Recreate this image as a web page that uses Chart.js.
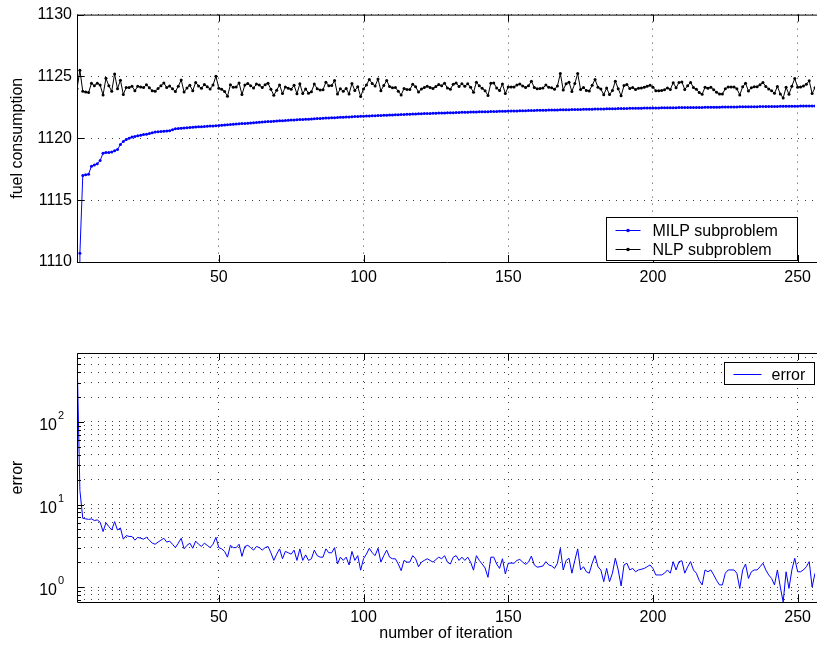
<!DOCTYPE html>
<html>
<head>
<meta charset="utf-8">
<script src="https://cdn.jsdelivr.net/npm/chart.js@4.4.0/dist/chart.umd.min.js"></script>
<style>
  html, body { margin: 0; padding: 0; background: #fff; }
  #wrap { position: relative; width: 817px; height: 647px; overflow: hidden; }
  #top { position: absolute; left: 0; top: 0; }
  #bottom { position: absolute; left: 0; top: 330px; }
</style>
</head>
<body>
<div id="wrap">
  <canvas id="top" width="817" height="300"></canvas>
  <canvas id="bottom" width="817" height="317"></canvas>
</div>
<script>
// values, one entry per iteration (1..256)
const milp = [
  439.0, 1110.7, 1117.0, 1117.05, 1117.1, 1117.75, 1117.85, 1117.95, 1118.2, 1118.8,
  1118.85, 1118.85, 1118.9, 1119.0, 1119.1, 1119.5, 1119.75, 1119.9, 1120.0, 1120.1,
  1120.15, 1120.2, 1120.25, 1120.3, 1120.33, 1120.38, 1120.45, 1120.5, 1120.52, 1120.55,
  1120.57, 1120.6, 1120.62, 1120.7, 1120.78, 1120.8, 1120.82, 1120.84, 1120.86, 1120.88,
  1120.9, 1120.92, 1120.93, 1120.94, 1120.95, 1120.97, 1120.99, 1121.0, 1121.02, 1121.04,
  1121.06, 1121.08, 1121.1, 1121.12, 1121.13, 1121.15, 1121.17, 1121.19, 1121.2, 1121.22,
  1121.24, 1121.26, 1121.28, 1121.3, 1121.31, 1121.33, 1121.35, 1121.36, 1121.38, 1121.39,
  1121.41, 1121.42, 1121.44, 1121.45, 1121.47, 1121.48, 1121.5, 1121.51, 1121.52, 1121.54,
  1121.55, 1121.57, 1121.58, 1121.6, 1121.61, 1121.62, 1121.64, 1121.65, 1121.66, 1121.67,
  1121.68, 1121.7, 1121.71, 1121.72, 1121.73, 1121.74, 1121.76, 1121.77, 1121.78, 1121.79,
  1121.8, 1121.81, 1121.82, 1121.83, 1121.84, 1121.85, 1121.86, 1121.87, 1121.88, 1121.89,
  1121.9, 1121.91, 1121.92, 1121.93, 1121.94, 1121.95, 1121.96, 1121.97, 1121.98, 1121.99,
  1122.0, 1122.0, 1122.01, 1122.02, 1122.03, 1122.04, 1122.04, 1122.05, 1122.06, 1122.07,
  1122.07, 1122.08, 1122.09, 1122.1, 1122.1, 1122.11, 1122.12, 1122.12, 1122.13, 1122.14,
  1122.14, 1122.15, 1122.15, 1122.16, 1122.17, 1122.17, 1122.18, 1122.18, 1122.19, 1122.2,
  1122.2, 1122.21, 1122.21, 1122.22, 1122.23, 1122.23, 1122.24, 1122.24, 1122.25, 1122.26,
  1122.26, 1122.27, 1122.27, 1122.28, 1122.28, 1122.29, 1122.29, 1122.3, 1122.3, 1122.31,
  1122.31, 1122.32, 1122.32, 1122.33, 1122.33, 1122.34, 1122.34, 1122.35, 1122.35, 1122.36,
  1122.36, 1122.37, 1122.37, 1122.38, 1122.38, 1122.39, 1122.39, 1122.4, 1122.4, 1122.41,
  1122.41, 1122.42, 1122.42, 1122.42, 1122.43, 1122.43, 1122.44, 1122.44, 1122.44, 1122.45,
  1122.45, 1122.45, 1122.46, 1122.46, 1122.46, 1122.47, 1122.47, 1122.47, 1122.48, 1122.48,
  1122.48, 1122.49, 1122.49, 1122.49, 1122.5, 1122.5, 1122.5, 1122.51, 1122.51, 1122.51,
  1122.52, 1122.52, 1122.52, 1122.53, 1122.53, 1122.53, 1122.54, 1122.54, 1122.54, 1122.55,
  1122.55, 1122.55, 1122.55, 1122.56, 1122.56, 1122.56, 1122.57, 1122.57, 1122.57, 1122.58,
  1122.58, 1122.58, 1122.58, 1122.59, 1122.59, 1122.59, 1122.6, 1122.6, 1122.6, 1122.6,
  1122.61, 1122.61, 1122.61, 1122.62, 1122.62, 1122.62
];
const nlp = [
  1124.0, 1125.5, 1123.8, 1123.75, 1123.7, 1124.45, 1124.25, 1124.45, 1124.3, 1123.5,
  1124.85, 1124.25, 1123.8, 1125.2, 1124.0, 1124.7, 1123.55, 1124.1, 1124.1, 1124.2,
  1123.85, 1124.2, 1124.15, 1124.1, 1124.33, 1124.08, 1123.85, 1123.8, 1124.02, 1124.25,
  1124.47, 1124.1, 1124.22, 1124.0, 1123.78, 1124.2, 1124.72, 1123.74, 1124.06, 1124.28,
  1123.85, 1124.52, 1124.23, 1124.04, 1124.35, 1124.17, 1123.99, 1124.3, 1125.02, 1124.04,
  1123.96, 1123.78, 1123.4, 1124.32, 1124.13, 1124.15, 1124.47, 1123.54, 1124.3, 1124.42,
  1124.24, 1124.06, 1124.38, 1124.3, 1124.11, 1124.33, 1124.45, 1123.96, 1123.48, 1123.89,
  1124.31, 1123.62, 1124.14, 1124.05, 1123.97, 1124.28, 1123.6, 1124.41, 1123.62, 1123.99,
  1123.65, 1123.77, 1124.38, 1124.0, 1123.91, 1123.92, 1124.54, 1124.25, 1124.26, 1124.67,
  1123.58, 1124.0, 1123.81, 1124.02, 1123.58, 1124.44, 1123.86, 1124.17, 1123.38, 1123.99,
  1124.3, 1124.76, 1124.42, 1124.23, 1124.79, 1123.85, 1124.26, 1124.67, 1124.18, 1124.09,
  1124.1, 1123.81, 1123.5, 1124.03, 1123.94, 1123.95, 1124.36, 1124.17, 1123.74, 1123.99,
  1124.1, 1124.2, 1124.11, 1124.02, 1124.18, 1124.34, 1124.24, 1124.45, 1124.06, 1123.97,
  1124.37, 1124.48, 1124.19, 1124.4, 1124.2, 1124.41, 1124.12, 1123.72, 1124.53, 1124.24,
  1124.04, 1123.85, 1123.46, 1124.46, 1124.47, 1124.07, 1123.86, 1124.38, 1123.63, 1124.14,
  1124.15, 1124.15, 1124.31, 1124.38, 1124.23, 1124.11, 1124.24, 1124.61, 1124.1, 1124.0,
  1124.02, 1124.07, 1124.3, 1124.13, 1124.08, 1123.97, 1124.23, 1125.24, 1123.91, 1124.41,
  1124.54, 1123.79, 1124.42, 1125.23, 1123.94, 1124.1, 1123.87, 1123.82, 1124.29, 1124.76,
  1124.12, 1123.98, 1123.53, 1124.06, 1123.54, 1123.86, 1124.62, 1124.01, 1123.43, 1124.26,
  1124.35, 1124.03, 1124.1, 1123.95, 1124.04, 1124.07, 1124.12, 1124.2, 1124.29, 1124.13,
  1123.85, 1123.85, 1123.86, 1123.93, 1124.07, 1123.94, 1124.5, 1124.08, 1124.51, 1124.56,
  1123.95, 1124.25, 1124.52, 1124.1, 1123.97, 1123.7, 1123.56, 1124.12, 1124.04, 1124.12,
  1123.92, 1123.72, 1123.58, 1123.59, 1124.0, 1124.14, 1124.15, 1124.15, 1124.01, 1123.51,
  1124.16, 1124.45, 1123.82, 1124.09, 1124.17, 1124.17, 1124.33, 1124.51, 1124.18, 1123.98,
  1123.85, 1123.64, 1124.19, 1123.59, 1123.25, 1124.12, 1123.56, 1124.21, 1124.83, 1124.13,
  1124.14, 1124.22, 1124.37, 1124.65, 1123.62, 1124.09
];
const errorValues = [
  685, 14.8, 6.8, 6.7, 6.6, 6.7, 6.4, 6.5, 6.1, 4.7,
  6.0, 5.4, 4.9, 6.2, 4.9, 5.2, 3.8, 4.2, 4.1, 4.1,
  3.7, 4.0, 3.9, 3.8, 4.0, 3.7, 3.4, 3.3, 3.5, 3.7,
  3.9, 3.5, 3.6, 3.3, 3.0, 3.4, 3.9, 2.9, 3.2, 3.4,
  2.95, 3.6, 3.3, 3.1, 3.4, 3.2, 3.0, 3.3, 4.0, 3.0,
  2.9, 2.7, 2.3, 3.2, 3.0, 3.0, 3.3, 2.35, 3.1, 3.2,
  3.0, 2.8, 3.1, 3.0, 2.8, 3.0, 3.1, 2.6, 2.1, 2.5,
  2.9, 2.2, 2.7, 2.6, 2.5, 2.8, 2.1, 2.9, 2.1, 2.45,
  2.1, 2.2, 2.8, 2.4, 2.3, 2.3, 2.9, 2.6, 2.6, 3.0,
  1.9, 2.3, 2.1, 2.3, 1.85, 2.7, 2.1, 2.4, 1.6, 2.2,
  2.5, 2.95, 2.6, 2.4, 2.95, 2.0, 2.4, 2.8, 2.3, 2.2,
  2.2, 1.9, 1.58, 2.1, 2.0, 2.0, 2.4, 2.2, 1.76, 2.0,
  2.1, 2.2, 2.1, 2.0, 2.15, 2.3, 2.2, 2.4, 2.0, 1.9,
  2.3, 2.4, 2.1, 2.3, 2.1, 2.3, 2.0, 1.6, 2.4, 2.1,
  1.9, 1.7, 1.31, 2.3, 2.3, 1.9, 1.68, 2.2, 1.44, 1.94,
  1.95, 1.94, 2.1, 2.16, 2.0, 1.88, 2.0, 2.37, 1.85, 1.74,
  1.76, 1.8, 2.03, 1.85, 1.8, 1.68, 1.94, 2.94, 1.61, 2.1,
  2.23, 1.47, 2.1, 2.9, 1.61, 1.76, 1.53, 1.47, 1.94, 2.4,
  1.76, 1.61, 1.16, 1.68, 1.16, 1.47, 2.23, 1.61, 1.03, 1.85,
  1.94, 1.61, 1.68, 1.53, 1.61, 1.64, 1.68, 1.76, 1.85, 1.68,
  1.4, 1.4, 1.4, 1.47, 1.61, 1.47, 2.03, 1.61, 2.03, 2.08,
  1.47, 1.76, 2.03, 1.61, 1.47, 1.2, 1.06, 1.61, 1.53, 1.61,
  1.4, 1.2, 1.06, 1.06, 1.47, 1.61, 1.61, 1.61, 1.47, 0.96,
  1.61, 1.9, 1.27, 1.53, 1.61, 1.61, 1.76, 1.94, 1.61, 1.4,
  1.27, 1.06, 1.61, 1.0, 0.66, 1.53, 0.96, 1.61, 2.23, 1.53,
  1.53, 1.61, 1.76, 2.03, 1.0, 1.47
];
const iterations = milp.map((_, i) => i + 1);

const xTicks = [50, 100, 150, 200, 250];
const fuelTicks = [1110, 1115, 1120, 1125, 1130];
const errorTicks = [0.7, 0.8, 0.9, 1, 2, 3, 4, 5, 6, 7, 8, 9, 10, 20, 30, 40, 50, 60, 70, 80, 90,
                    100, 200, 300, 400, 500, 600];
const errorDecades = [1, 10, 100];

const FONT = "'Liberation Sans', Arial, Helvetica, sans-serif";
const GRID = 'rgba(0,0,0,0.75)';

function pts(arr){ return arr.map((v, i) => ({x: iterations[i], y: v})); }

// grid only on the listed tick values, nothing on the plot edges
function gridOn(list){
  return c => (c.tick && list.includes(c.tick.value)) ? GRID : 'rgba(0,0,0,0)';
}

// MATLAB-like frame: solid box, inward tick marks, optional 10^n labels
const frame = {
  id: 'frame',
  afterDraw(chart, args, o) {
    const {ctx, chartArea: a, scales} = chart;
    ctx.save();
    ctx.strokeStyle = '#000';
    ctx.lineWidth = 1;
    ctx.beginPath();
    ctx.moveTo(a.right + 2, a.top + 0.5); ctx.lineTo(a.left + 0.5, a.top + 0.5);
    ctx.lineTo(a.left + 0.5, a.bottom + 0.5); ctx.lineTo(a.right + 2, a.bottom + 0.5);
    for (const t of scales.x.ticks) {
      const px = Math.round(scales.x.getPixelForValue(t.value)) + 0.5;
      ctx.moveTo(px, a.bottom); ctx.lineTo(px, a.bottom - 7);
      ctx.moveTo(px, a.top); ctx.lineTo(px, a.top + 7);
    }
    for (const t of scales.y.ticks) {
      const py = Math.round(scales.y.getPixelForValue(t.value)) + 0.5;
      const len = (o.decades && !o.decades.includes(t.value)) ? 4 : 7;
      ctx.moveTo(a.left, py); ctx.lineTo(a.left + len, py);
    }
    ctx.stroke();
    if (o.decades) {
      ctx.fillStyle = '#000';
      ctx.textBaseline = 'middle';
      o.decades.forEach(v => {
        const py = scales.y.getPixelForValue(v);
        ctx.font = '16px ' + FONT;
        ctx.textAlign = 'right';
        ctx.fillText('10', a.left - 20, py + 4);
        ctx.font = '11px ' + FONT;
        ctx.textAlign = 'left';
        ctx.fillText(String(Math.round(Math.log10(v))), a.left - 19, py - 6);
      });
    }
    ctx.restore();
  }
};

const legendBox = {
  id: 'legendBox',
  afterDraw(chart, args, o) {
    const {ctx, chartArea: a} = chart;
    const x = Math.round(a.right - o.fromRight) + 0.5;
    const y = Math.round(a.top + o.fromTop) + 0.5;
    ctx.save();
    ctx.lineWidth = 1;
    ctx.fillStyle = '#fff';
    ctx.fillRect(x, y, o.width, o.height);
    ctx.strokeStyle = '#000';
    ctx.strokeRect(x, y, o.width, o.height);
    ctx.font = '16px ' + FONT;
    ctx.textBaseline = 'middle';
    chart.data.datasets.forEach((ds, i) => {
      const ly = Math.round(y + o.firstRow + i * o.rowStep) + 0.5;
      ctx.strokeStyle = ds.borderColor;
      ctx.beginPath(); ctx.moveTo(x + o.lineFrom, ly); ctx.lineTo(x + o.lineTo, ly); ctx.stroke();
      if (ds.pointRadius > 0) {
        ctx.fillStyle = ds.borderColor;
        ctx.beginPath(); ctx.arc(x + (o.lineFrom + o.lineTo) / 2, ly, 1.8, 0, Math.PI * 2); ctx.fill();
      }
      ctx.fillStyle = '#000';
      ctx.fillText(ds.label, x + o.textX, ly + 1);
    });
    ctx.restore();
  }
};

function xAxis(height, withTitle){
  return {
    type: 'linear', min: 1, max: 256,
    afterBuildTicks: s => { s.ticks = xTicks.map(v => ({value: v})); },
    afterFit: s => { s.height = height; },
    border: {display: false, dash: [1, 6]},
    grid: {color: gridOn(xTicks), lineWidth: 1, drawTicks: false},
    ticks: {autoSkip: false, maxRotation: 0, padding: 6, color: '#000',
            font: {family: FONT, size: 16}, callback: v => String(v)},
    title: {display: withTitle, text: 'number of iteration', color: '#000',
            font: {family: FONT, size: 16}, padding: {top: 0, bottom: 4}}
  };
}

Chart.defaults.animation = false;

new Chart(document.getElementById('top'), {
  type: 'line',
  data: {
    datasets: [
      {label: 'MILP subproblem', data: pts(milp), borderColor: '#0000ff', backgroundColor: '#0000ff',
       borderWidth: 1, pointRadius: 1.5, pointBorderWidth: 0, pointBackgroundColor: '#0000ff', tension: 0},
      {label: 'NLP subproblem', data: pts(nlp), borderColor: '#000000', backgroundColor: '#000000',
       borderWidth: 1, pointRadius: 1.5, pointBorderWidth: 0, pointBackgroundColor: '#000000', tension: 0}
    ]
  },
  options: {
    responsive: false,
    devicePixelRatio: 1,
    layout: {autoPadding: false, padding: {top: 13, left: 0, right: 0, bottom: 0}},
    plugins: {
      legend: {display: false}, tooltip: {enabled: false},
      frame: {},
      legendBox: {fromRight: 209, fromTop: 202, width: 191, height: 43, firstRow: 12, rowStep: 19,
                  lineFrom: 9, lineTo: 34, textX: 46}
    },
    scales: {
      x: xAxis(38, false),
      y: {
        min: 1110, max: 1130,
        afterBuildTicks: s => { s.ticks = fuelTicks.map(v => ({value: v})); },
        afterFit: s => { s.width = 77; },
        border: {display: false, dash: [1, 6]},
        grid: {color: gridOn(fuelTicks), lineWidth: 1, drawTicks: false},
        ticks: {padding: 5, color: '#000', font: {family: FONT, size: 16}, callback: v => String(v)},
        title: {display: true, text: 'fuel consumption', color: '#000',
                font: {family: FONT, size: 16}, padding: {top: 8, bottom: 0}}
      }
    }
  },
  plugins: [frame, legendBox]
});

new Chart(document.getElementById('bottom'), {
  type: 'line',
  data: {
    datasets: [
      {label: 'error', data: pts(errorValues), borderColor: '#0000ff', borderWidth: 1,
       pointRadius: 0, tension: 0}
    ]
  },
  options: {
    responsive: false,
    devicePixelRatio: 1,
    layout: {autoPadding: false, padding: {top: 23, left: 0, right: 0, bottom: 0}},
    plugins: {
      legend: {display: false}, tooltip: {enabled: false},
      frame: {decades: errorDecades},
      legendBox: {fromRight: 91, fromTop: 9, width: 90, height: 22, firstRow: 11, rowStep: 19,
                  lineFrom: 9, lineTo: 37, textX: 47}
    },
    scales: {
      x: xAxis(45, true),
      y: {
        type: 'logarithmic', min: 0.658, max: 686,
        afterBuildTicks: s => { s.ticks = errorTicks.map(v => ({value: v})); },
        afterFit: s => { s.width = 77; },
        border: {display: false, dash: [1, 6]},
        grid: {color: gridOn(errorTicks), lineWidth: 1, drawTicks: false},
        ticks: {autoSkip: false, padding: 5, callback: () => ''},
        title: {display: true, text: 'error', color: '#000',
                font: {family: FONT, size: 16}, padding: {top: 8, bottom: 0}}
      }
    }
  },
  plugins: [frame, legendBox]
});
</script>
</body>
</html>
